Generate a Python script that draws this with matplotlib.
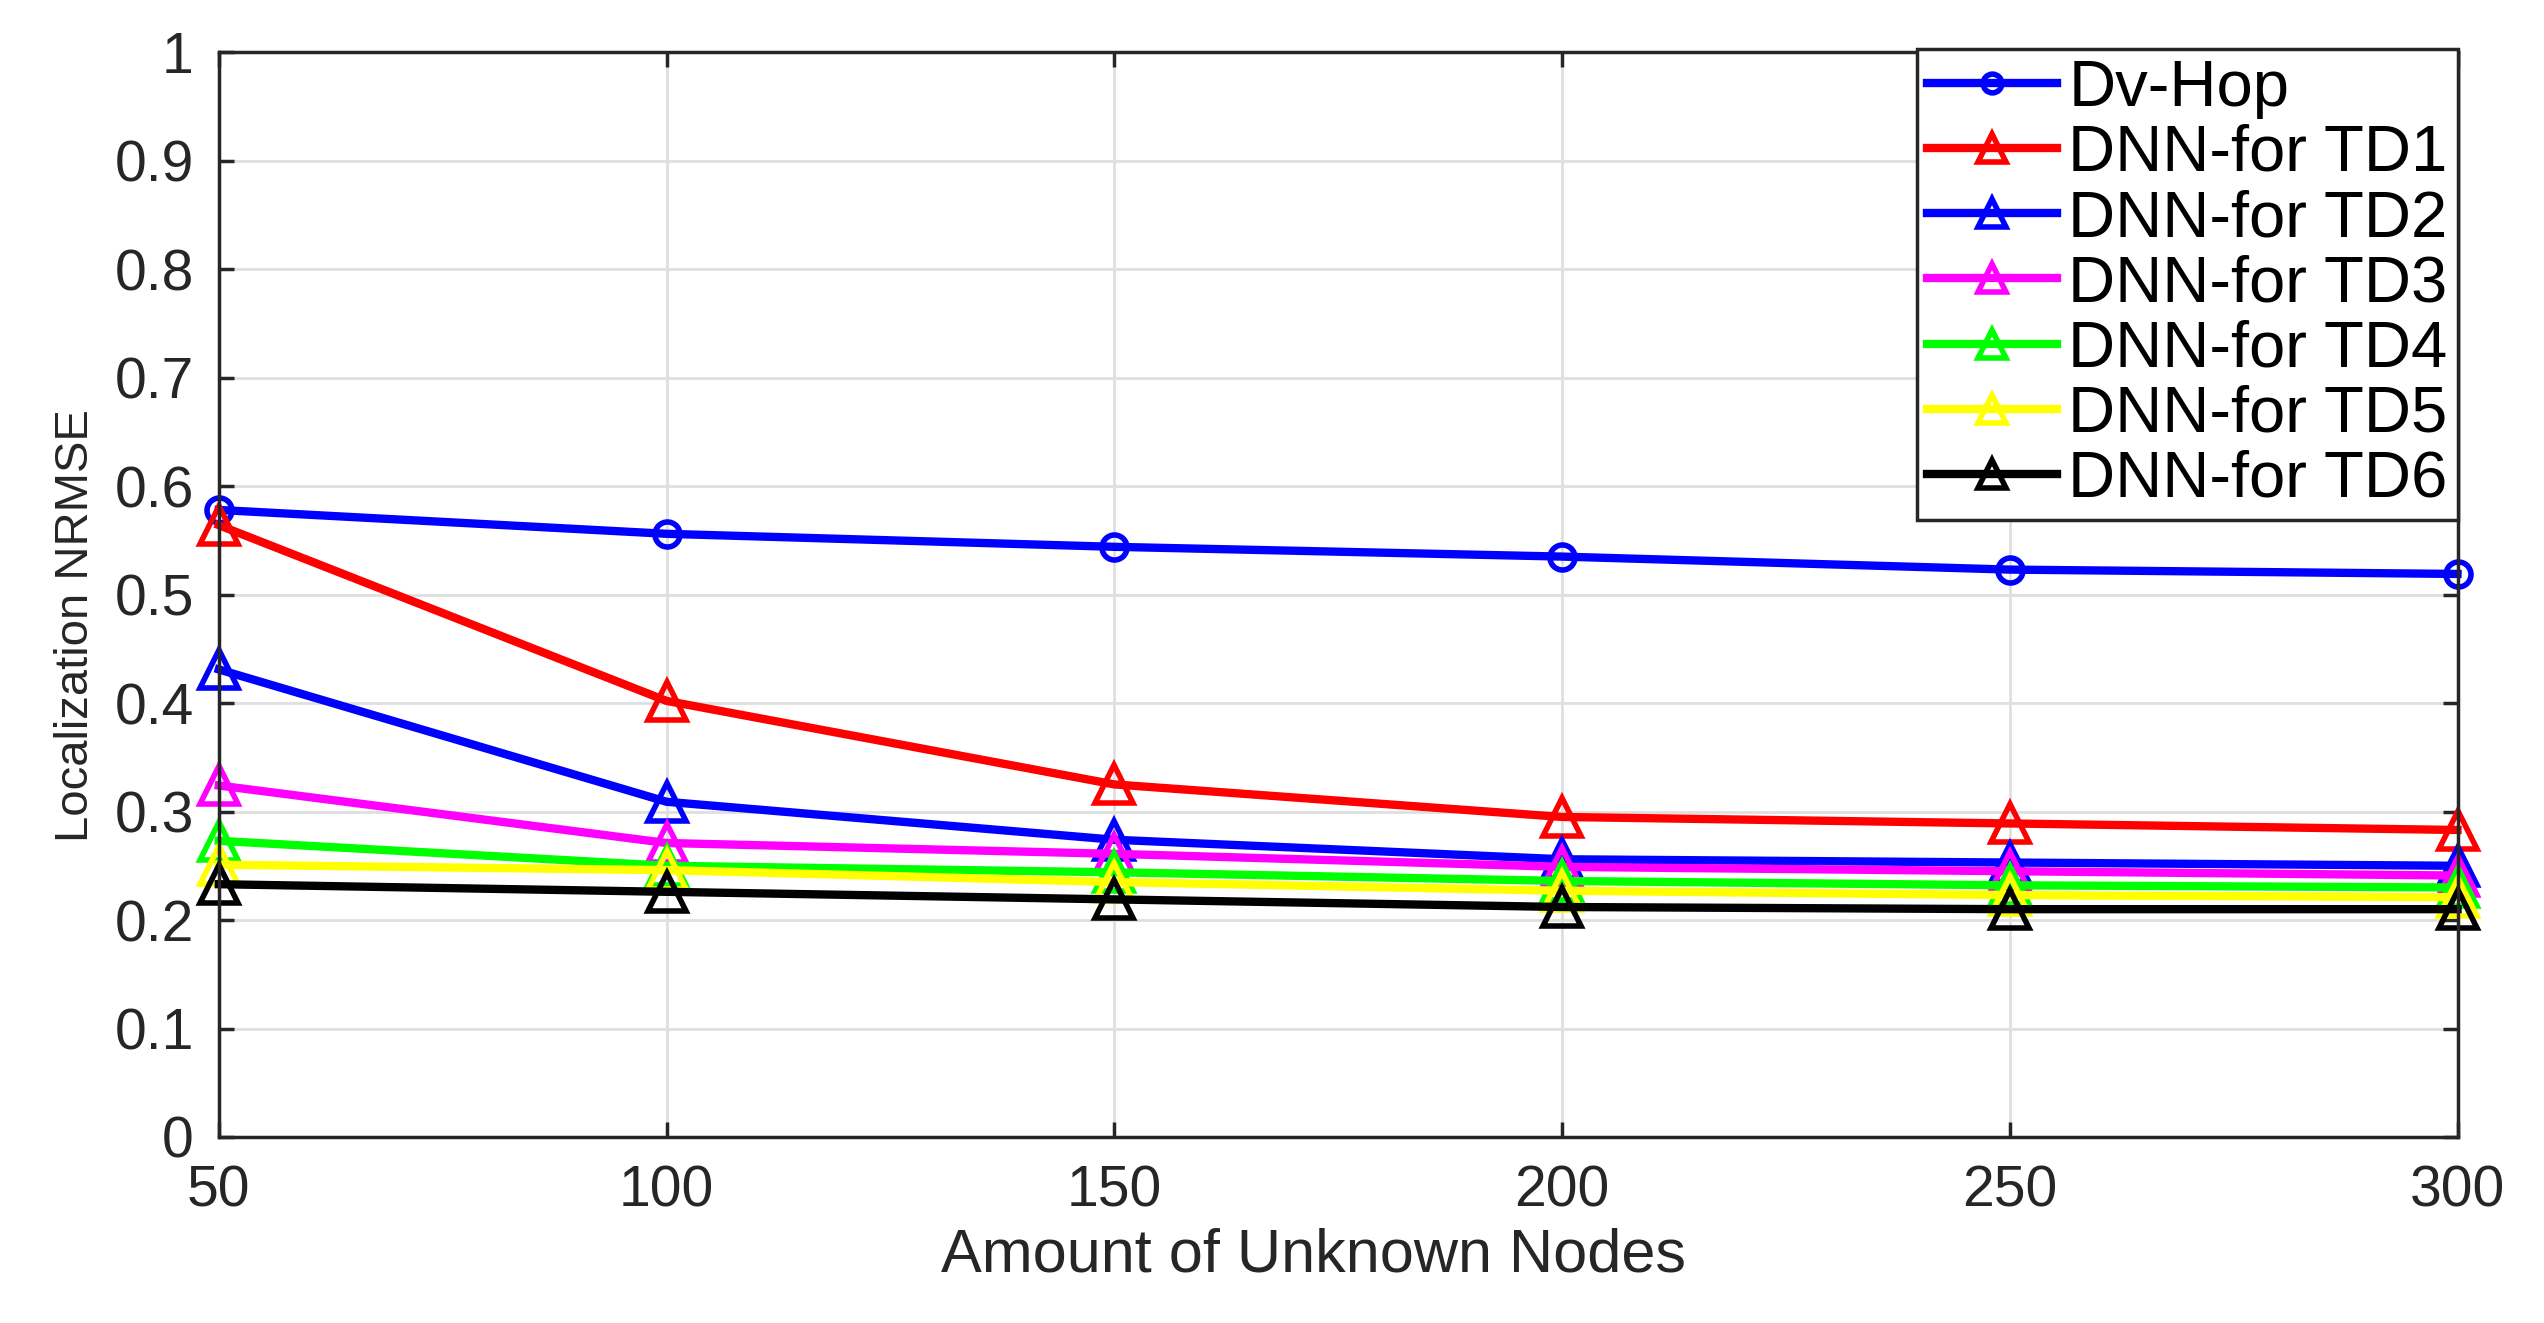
import matplotlib
matplotlib.use("Agg")
import matplotlib.pyplot as plt
from matplotlib.ticker import FormatStrFormatter

plt.rcParams['font.family'] = ['Liberation Sans', 'DejaVu Sans']

nodes = [50, 100, 150, 200, 250, 300]

dv_hop = [0.578, 0.556, 0.544, 0.535, 0.523, 0.519]
td1 = [0.564, 0.402, 0.325, 0.295, 0.289, 0.283]
td2 = [0.431, 0.309, 0.274, 0.256, 0.253, 0.250]
td3 = [0.324, 0.271, 0.261, 0.249, 0.245, 0.241]
td4 = [0.273, 0.250, 0.244, 0.236, 0.232, 0.230]
td5 = [0.251, 0.246, 0.235, 0.227, 0.223, 0.221]
td6 = [0.233, 0.226, 0.219, 0.212, 0.210, 0.210]

labels = ['Dv-Hop', 'DNN-for TD1', 'DNN-for TD2', 'DNN-for TD3',
          'DNN-for TD4', 'DNN-for TD5', 'DNN-for TD6']
colors = ['#0000ff', '#ff0000', '#0000ff', '#ff00ff', '#00ff00', '#ffff00', '#000000']
markers = ['o', '^', '^', '^', '^', '^', '^']
series = [dv_hop, td1, td2, td3, td4, td5, td6]

yticks = [0, 0.1, 0.2, 0.3, 0.4, 0.5, 0.6, 0.7, 0.8, 0.9, 1]

fig = plt.figure(figsize=(25.44, 13.23), dpi=100)
ax = fig.add_axes([0.086, 0.1406, 0.880, 0.820])

axcol = '#262626'

for vals, lab, c, m in zip(series, labels, colors, markers):
    ms = 18 if m == 'o' else 27
    ax.plot(nodes, vals, color=c, lw=6, marker=m, ms=ms,
            mfc='none', mec=c, mew=4, label=lab, clip_on=False)

ax.set_xlim(50, 300)
ax.set_ylim(0, 1)
ax.set_xticks(nodes)
ax.set_yticks(yticks)
ax.yaxis.set_major_formatter(FormatStrFormatter('%g'))
ax.grid(True, color='#dfdfdf', lw=2)
ax.set_axisbelow(True)

for s in ax.spines.values():
    s.set_color(axcol)
    s.set_linewidth(2.5)

ax.tick_params(axis='both', direction='in', length=11, width=2.5,
               colors=axcol, labelsize=41, top=True, right=True)
ax.tick_params(axis='x', pad=20)
ax.tick_params(axis='y', pad=18)

ax.set_xlabel('Amount of Unknown Nodes', fontsize=44, color=axcol)
ax.set_ylabel('Localization NRMSE', fontsize=34, color=axcol)
ax.xaxis.set_label_coords(0.489, -0.083)
ax.yaxis.set_label_coords(-0.054, 0.471)

leg = ax.legend(loc='upper right', bbox_to_anchor=(1.0, 1.003), fontsize=47,
                frameon=True, fancybox=False, borderaxespad=0, borderpad=0.15,
                labelspacing=0.08, handlelength=2.0, handletextpad=0.17,
                markerscale=0.75)
leg.get_frame().set_edgecolor(axcol)
leg.get_frame().set_linewidth(2.5)
leg.get_frame().set_alpha(1)
leg.set_zorder(5)

fig.savefig('out.png', dpi=100)
